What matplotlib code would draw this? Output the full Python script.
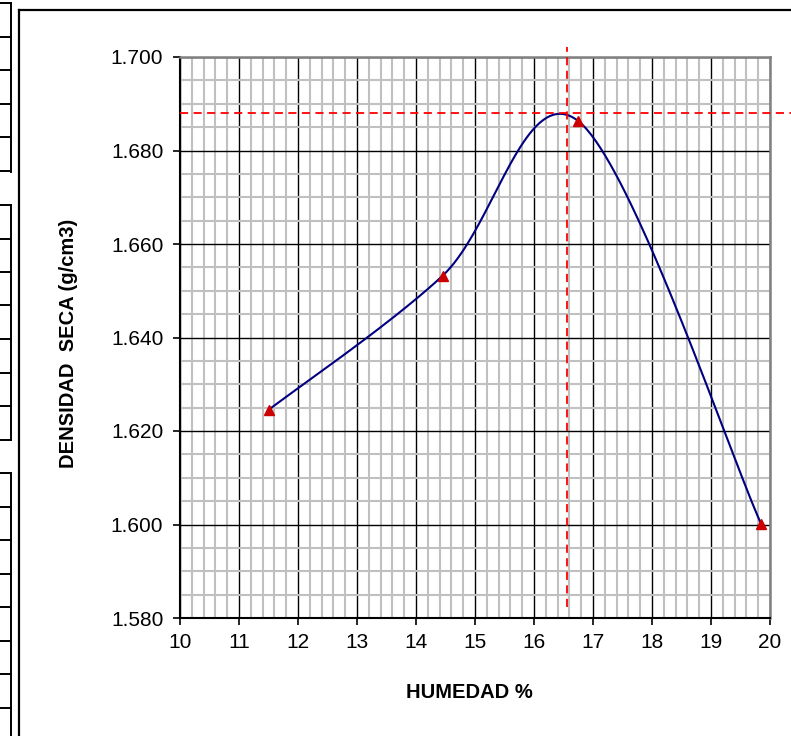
import numpy as np
import matplotlib
matplotlib.use("Agg")
import matplotlib.pyplot as plt
from matplotlib.lines import Line2D
from matplotlib.ticker import MultipleLocator, FormatStrFormatter

plt.rcParams['font.family'] = ['Liberation Sans', 'DejaVu Sans']

# Compaction test results
humedad = [11.5, 14.45, 16.75, 19.85]          # moisture content (%)
densidad = [1.6245, 1.6532, 1.6863, 1.6001]    # dry density (g/cm3)

# Optimum moisture content and maximum dry density
humedad_optima = 16.56
densidad_maxima = 1.688

x_ticks = [10, 11, 12, 13, 14, 15, 16, 17, 18, 19, 20]
y_ticks = [1.580, 1.600, 1.620, 1.640, 1.660, 1.680, 1.700]

x_label = "HUMEDAD %"
y_label = "DENSIDAD  SECA (g/cm3)"


def smooth_curve(xs, ys, n=80):
    """Bezier spline through the points (spreadsheet-style smoothed line)."""
    p = np.column_stack([xs, ys]).astype(float)
    m = len(p)
    ext = np.vstack([p[0], p, p[-1]])
    out = []
    t = np.linspace(0, 1, n)[:, None]
    for i in range(m - 1):
        p0, p1, p2, p3 = ext[i], ext[i + 1], ext[i + 2], ext[i + 3]
        c1 = p1 + (p2 - p0) / 6.0
        c2 = p2 - (p3 - p1) / 6.0
        seg = ((1 - t) ** 3) * p1 + 3 * ((1 - t) ** 2) * t * c1 \
            + 3 * (1 - t) * t ** 2 * c2 + t ** 3 * p2
        out.append(seg if i == 0 else seg[1:])
    out = np.vstack(out)
    return out[:, 0], out[:, 1]


W, H = 791, 736
fig = plt.figure(figsize=(W / 100, H / 100), dpi=100)


def fx(px):
    return px / W


def fy(py):
    return 1 - py / H


ax_left, ax_right, ax_top, ax_bottom = 180, 770, 57, 618
ax = fig.add_axes([fx(ax_left), fy(ax_bottom), fx(ax_right - ax_left),
                   (ax_bottom - ax_top) / H])

ax.set_xlim(x_ticks[0], x_ticks[-1])
ax.set_ylim(y_ticks[0], y_ticks[-1])
ax.set_xticks(x_ticks)
ax.set_yticks(y_ticks)
ax.xaxis.set_minor_locator(MultipleLocator(0.2))
ax.yaxis.set_minor_locator(MultipleLocator(0.005))
ax.yaxis.set_major_formatter(FormatStrFormatter('%.3f'))

ax.grid(which='minor', color='#c0c0c0', linewidth=1.5, zorder=0)
ax.grid(which='major', color='black', linewidth=1.0, zorder=0.5)
ax.set_axisbelow(True)

ax.tick_params(axis='both', which='major', direction='out', length=5,
               width=1.2, color='black', labelsize=15, pad=7)
ax.tick_params(axis='both', which='minor', length=0)
ax.tick_params(axis='x', pad=6)

for side in ('left', 'bottom'):
    ax.spines[side].set_color('black')
    ax.spines[side].set_linewidth(1.5)
for side in ('top', 'right'):
    ax.spines[side].set_color('#808080')
    ax.spines[side].set_linewidth(1.8)

# Fitted compaction curve and measured points
cx, cy = smooth_curve(humedad, densidad)
ax.plot(cx, cy, color='#000080', linewidth=1.5, zorder=3)
ax.plot(humedad, densidad, linestyle='none', marker='^', markersize=7,
        color='#cc0000', zorder=4)

# Optimum guide lines
x0, x1 = ax.get_xlim()
y0, y1 = ax.get_ylim()
xs_per_px = (x1 - x0) / (ax_right - ax_left)
ys_per_px = (y1 - y0) / (ax_bottom - ax_top)
ax.plot([x0, x1 + (W - ax_right) * xs_per_px], [densidad_maxima] * 2,
        color='#ff0000', linewidth=1.3, dashes=(4.5, 3), clip_on=False,
        zorder=5)
ax.plot([humedad_optima] * 2, [y0 + 11 * ys_per_px, y1 + 10 * ys_per_px],
        color='#ff0000', linewidth=1.3, dashes=(4.5, 3), clip_on=False,
        zorder=5)

fig.text(fx(469), fy(692), x_label, ha='center', va='center',
         fontsize=14.5, fontweight='bold')
fig.text(fx(69), fy(343), y_label, ha='center', va='center',
         rotation=90, fontsize=14.5, fontweight='bold')

# Outer frame
frame_kw = dict(color='black', linewidth=1.6, transform=fig.transFigure)
fig.add_artist(Line2D([fx(19), fx(W + 5)], [fy(10), fy(10)], **frame_kw))
fig.add_artist(Line2D([fx(19), fx(19)], [fy(10), fy(H + 5)], **frame_kw))

# Neighbouring table cells on the left
cell_kw = dict(color='black', linewidth=1.4, transform=fig.transFigure)
blocks = [(3, 172), (205, 440), (473, H + 5)]
for top, bottom in blocks:
    fig.add_artist(Line2D([fx(11), fx(11)], [fy(top), fy(bottom)], **cell_kw))
    yy = top
    while yy <= min(bottom, H) + 0.5:
        fig.add_artist(Line2D([0, fx(11)], [fy(yy), fy(yy)], **cell_kw))
        yy += 33.5

fig.savefig('out.png', dpi=100)
